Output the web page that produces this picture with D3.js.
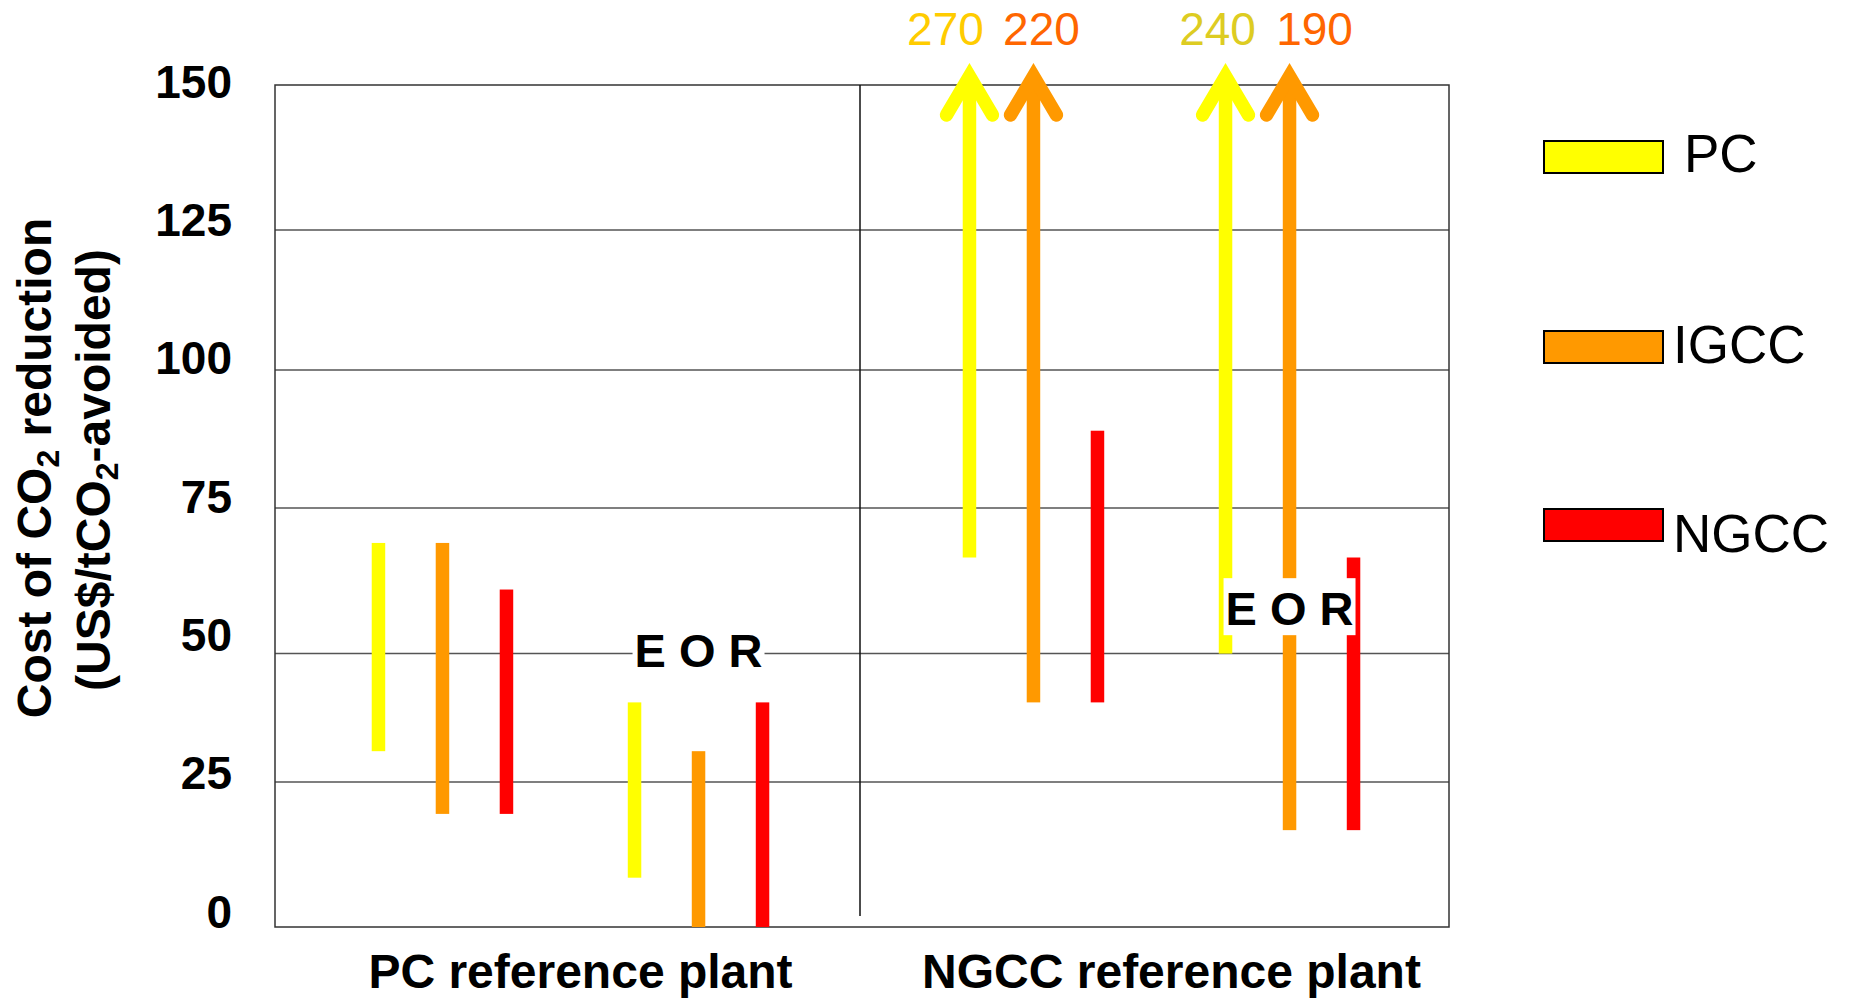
<!DOCTYPE html>
<html>
<head>
<meta charset="utf-8">
<script src="https://cdn.jsdelivr.net/npm/d3@7"></script>
<style>
  body { margin: 0; background: #fff; }
  svg { display: block; font-family: "Liberation Sans", Arial, sans-serif; }
</style>
</head>
<body>
<div id="chart"></div>
<script>
const plants = ["PC reference plant", "NGCC reference plant"];
const cases = ["base", "EOR"];
const techs = ["PC", "IGCC", "NGCC"];
const yTicks = [0, 25, 50, 75, 100, 125, 150];

// cost range per capture tech (PC, IGCC, NGCC), US$/tCO2 avoided
const pcPlantLow = [31, 19.5, 19.5];
const pcPlantHigh = [69, 69, 61];
const pcPlantEorLow = [8.5, 0, 0];
const pcPlantEorHigh = [40.5, 31, 40.5];
const ngccPlantLow = [66.5, 40.5, 40.5];
const ngccPlantHigh = [270, 220, 89];
const ngccPlantEorLow = [50, 16.7, 16.7];
const ngccPlantEorHigh = [240, 190, 66.5];

// where the "E O R" tag sits, in axis units
const eorTagValue = [50.6, 57.8];

(function () {
  const width = 1849;
  const height = 998;
  const margin = { top: 85, right: 400, bottom: 71, left: 275 };
  const innerW = width - margin.left - margin.right;
  const innerH = height - margin.top - margin.bottom;

  const ranges = {
    "PC reference plant": { base: [pcPlantLow, pcPlantHigh], EOR: [pcPlantEorLow, pcPlantEorHigh] },
    "NGCC reference plant": { base: [ngccPlantLow, ngccPlantHigh], EOR: [ngccPlantEorLow, ngccPlantEorHigh] }
  };

  const rows = plants.flatMap(p => cases.flatMap(c => techs.map((t, i) => ({
    plant: p, kase: c, tech: t,
    low: ranges[p][c][0][i],
    high: ranges[p][c][1][i]
  }))));

  const color = d3.scaleOrdinal(techs, ["#ffff00", "#ff9900", "#ff0000"]);
  // colours and nudges of the off-scale value labels
  const offColor = { base: { PC: "#ffcc00", IGCC: "#ff6600" }, EOR: { PC: "#ddcc22", IGCC: "#ff6600" } };
  const offShift = { base: { PC: -24, IGCC: 8 }, EOR: { PC: -8, IGCC: 25 } };

  const svg = d3.select("#chart")
    .append("svg")
    .attr("width", width)
    .attr("height", height);

  const g = svg.append("g")
    .attr("transform", `translate(${margin.left},${margin.top})`);

  const yMax = d3.max(yTicks);
  // the original axis is hand drawn: gridlines are not quite evenly spaced
  const y = d3.scaleLinear()
    .domain(yTicks)
    .range([innerH, innerH - 145, innerH - 273.4, innerH - 419, 285, 145, 0]);
  const xPlant = d3.scaleBand().domain(plants).range([0, innerW + 8]);
  const xCase = d3.scaleBand().domain(cases).range([0, xPlant.bandwidth()]).paddingOuter(0.154);
  const xTech = d3.scalePoint().domain(techs).range([-64, 64]);
  const cx = d => xPlant(d.plant) + xCase(d.kase) + xCase.bandwidth() / 2 + xTech(d.tech);

  // gridlines + frame
  g.selectAll(".grid")
    .data(yTicks.filter(v => v > 0 && v < yMax))
    .join("line")
    .attr("x1", 0)
    .attr("x2", innerW)
    .attr("y1", d => y(d))
    .attr("y2", d => y(d))
    .attr("stroke", "#555")
    .attr("stroke-width", 1.5);

  g.append("rect")
    .attr("width", innerW)
    .attr("height", innerH)
    .attr("fill", "none")
    .attr("stroke", "#333")
    .attr("stroke-width", 1.5);

  g.append("line")
    .attr("x1", innerW / 2 - 2)
    .attr("x2", innerW / 2 - 2)
    .attr("y1", 0)
    .attr("y2", innerH - 11)
    .attr("stroke", "#111")
    .attr("stroke-width", 1.5);

  // range bars
  const barW = 13.5;
  const headY = y(yMax) - 9;

  g.selectAll(".bar")
    .data(rows)
    .join("rect")
    .attr("x", d => cx(d) - barW / 2)
    .attr("width", barW)
    .attr("y", d => d.high > yMax ? headY : y(d.high))
    .attr("height", d => y(d.low) - (d.high > yMax ? headY : y(d.high)))
    .attr("fill", d => color(d.tech));

  const offScale = rows.filter(d => d.high > yMax);

  g.selectAll(".head")
    .data(offScale)
    .join("path")
    .attr("d", d => `M${cx(d) - 23},${headY + 39}L${cx(d)},${headY}L${cx(d) + 23},${headY + 39}`)
    .attr("fill", "none")
    .attr("stroke", d => color(d.tech))
    .attr("stroke-width", 13.3)
    .attr("stroke-linecap", "round")
    .attr("stroke-linejoin", "miter");

  g.selectAll(".offlabel")
    .data(offScale)
    .join("text")
    .attr("x", d => cx(d) + offShift[d.kase][d.tech])
    .attr("y", y(yMax) - 40)
    .attr("text-anchor", "middle")
    .style("font-size", "46px")
    .attr("fill", d => offColor[d.kase][d.tech])
    .text(d => d.high);

  // E O R tags, on a white patch
  plants.forEach((p, i) => {
    const tx = xPlant(p) + xCase("EOR") + xCase.bandwidth() / 2;
    const tag = g.append("g");
    const txt = tag.append("text")
      .attr("x", tx)
      .attr("y", y(eorTagValue[i]) + 17)
      .attr("text-anchor", "middle")
      .style("font-size", "47px")
      .style("font-weight", "bold")
      .text("E O R");
    const bb = txt.node().getBBox();
    tag.insert("rect", "text")
      .attr("x", bb.x - 2)
      .attr("y", bb.y - 4)
      .attr("width", bb.width + 4)
      .attr("height", bb.height + 4)
      .attr("fill", "#fff");
  });

  // y tick labels (evenly spaced, a touch above their gridlines)
  const yLabel = d3.scaleLinear().domain([0, yMax]).range([innerH - 16, -4]);
  g.selectAll(".tick")
    .data(yTicks)
    .join("text")
    .attr("x", -43)
    .attr("y", d => yLabel(d) + 16.5)
    .attr("text-anchor", "end")
    .style("font-size", "46px")
    .style("font-weight", "bold")
    .text(d => d);

  // category labels
  g.selectAll(".cat")
    .data(plants)
    .join("text")
    .attr("x", d => xPlant(d) + xPlant.bandwidth() / 2 + 10)
    .attr("y", innerH + 61)
    .attr("text-anchor", "middle")
    .style("font-size", "48px")
    .style("font-weight", "bold")
    .text(d => d);

  // y axis title
  const t1 = svg.append("text")
    .attr("transform", "translate(51,468) rotate(-90)")
    .attr("text-anchor", "middle")
    .style("font-size", "48px")
    .style("font-weight", "bold");
  t1.append("tspan").text("Cost of CO");
  t1.append("tspan").attr("dy", 8).style("font-size", "32px").text("2");
  t1.append("tspan").attr("dy", -8).text(" reduction");

  const t2 = svg.append("text")
    .attr("transform", "translate(110,470) rotate(-90)")
    .attr("text-anchor", "middle")
    .style("font-size", "48px")
    .style("font-weight", "bold");
  t2.append("tspan").text("(US$/tCO");
  t2.append("tspan").attr("dy", 8).style("font-size", "32px").text("2");
  t2.append("tspan").attr("dy", -8).text("-avoided)");

  // legend
  const legendY = [141, 331, 509];
  const legendTextX = [1684, 1673, 1673];
  const legendTextY = [172, 363, 552];
  const legend = svg.selectAll(".legend")
    .data(techs)
    .join("g");
  legend.append("rect")
    .attr("x", 1544)
    .attr("y", (d, i) => legendY[i])
    .attr("width", 119)
    .attr("height", 32)
    .attr("fill", d => color(d))
    .attr("stroke", "#000")
    .attr("stroke-width", 2);
  legend.append("text")
    .attr("x", (d, i) => legendTextX[i])
    .attr("y", (d, i) => legendTextY[i])
    .style("font-size", "53px")
    .text(d => d);
})();
</script>
</body>
</html>
